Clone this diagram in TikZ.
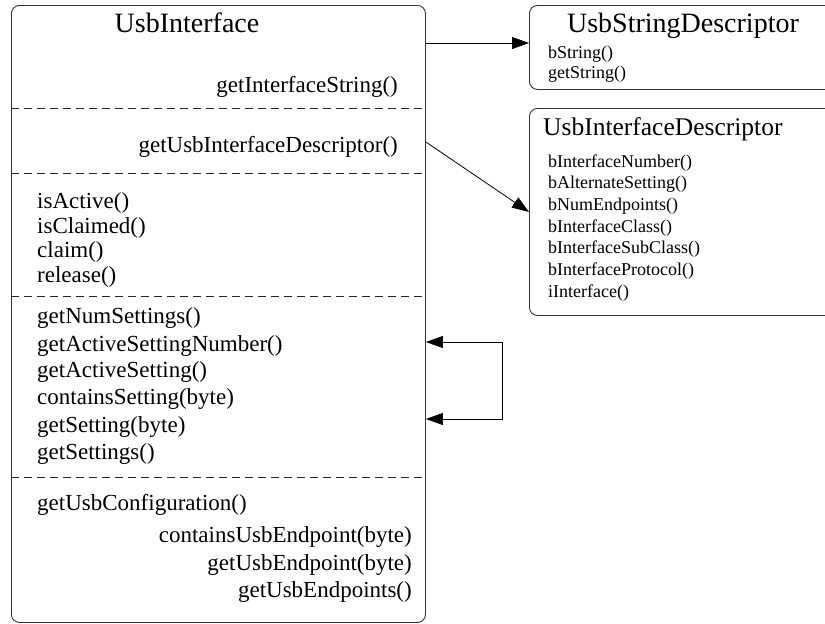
\documentclass[tikz,border=0pt]{standalone}
\usepackage{fontspec}
\setmainfont{Liberation Serif}
\usetikzlibrary{arrows.meta}
\begin{document}
\begin{tikzpicture}[x=1pt,y=-1pt,
  box/.style={draw=black!80, line width=0.9pt, rounded corners=8pt, anchor=north west, inner sep=0pt},
  sep/.style={draw=black!85, line width=0.8pt, dash pattern=on 8pt off 5pt},
  big/.style={font=\fontsize{28}{30}\selectfont, inner sep=0pt},
  mid/.style={font=\fontsize{25.5}{28}\selectfont, inner sep=0pt},
  meth/.style={font=\fontsize{23}{26}\selectfont, inner sep=0pt},
  small/.style={font=\fontsize{18}{20}\selectfont, inner sep=0pt},
  conn/.style={line width=0.8pt, -{Triangle[length=17pt,width=12pt]}}]
\useasboundingbox (0,0) rectangle (825,624);
\begin{scope}
\clip (0,0) rectangle (825,624);
% boxes
\node[box, minimum width=414pt, minimum height=617pt] (ui) at (11,5) {};
\node[box, minimum width=310pt, minimum height=84pt] (sd) at (529,5) {};
\node[box, minimum width=310pt, minimum height=207pt] (id) at (529,108) {};
\end{scope}
% separators
\draw[sep] (11,108) -- (425,108);
\draw[sep] (11,173) -- (425,173);
\draw[sep] (11,296) -- (425,296);
\draw[sep] (11,477) -- (425,477);
% UsbInterface texts
\node[big, anchor=base] (t1) at (187,32) {UsbInterface};
\node[meth, anchor=base east] (m1) at (398,92) {getInterfaceString()};
\node[meth, anchor=base east] (m2) at (398,152) {getUsbInterfaceDescriptor()};
\node[meth, anchor=base west] (m3) at (37,208) {isActive()};
\node[meth, anchor=base west] (m4) at (37,233) {isClaimed()};
\node[meth, anchor=base west] (m5) at (37,257) {claim()};
\node[meth, anchor=base west] (m6) at (37,282) {release()};
\node[meth, anchor=base west] (m7) at (37,323) {getNumSettings()};
\node[meth, anchor=base west] (m8) at (37,351) {getActiveSettingNumber()};
\node[meth, anchor=base west] (m9) at (37,377) {getActiveSetting()};
\node[meth, anchor=base west] (m10) at (37,404) {containsSetting(byte)};
\node[meth, anchor=base west] (m11) at (37,432) {getSetting(byte)};
\node[meth, anchor=base west] (m12) at (37,459) {getSettings()};
\node[meth, anchor=base west] (m13) at (37,510) {getUsbConfiguration()};
\node[meth, anchor=base east] (m14) at (412,542) {containsUsbEndpoint(byte)};
\node[meth, anchor=base east] (m15) at (412,570) {getUsbEndpoint(byte)};
\node[meth, anchor=base east] (m16) at (412,597) {getUsbEndpoints()};
% UsbStringDescriptor texts
\node[big, anchor=base] (t2) at (683,32) {UsbStringDescriptor};
\node[small, anchor=base west] (s1) at (548,58) {bString()};
\node[small, anchor=base west] (s2) at (548,78) {getString()};
% UsbInterfaceDescriptor texts
\node[mid, anchor=base west] (t3) at (543,135) {UsbInterfaceDescriptor};
\node[small, anchor=base west] (d1) at (548,167) {bInterfaceNumber()};
\node[small, anchor=base west] (d2) at (548,188.7) {bAlternateSetting()};
\node[small, anchor=base west] (d3) at (548,210.4) {bNumEndpoints()};
\node[small, anchor=base west] (d4) at (548,232.1) {bInterfaceClass()};
\node[small, anchor=base west] (d5) at (548,253.8) {bInterfaceSubClass()};
\node[small, anchor=base west] (d6) at (548,275.5) {bInterfaceProtocol()};
\node[small, anchor=base west] (d7) at (548,297.2) {iInterface()};
% connectors
\coordinate (a1) at (ui.east |- 0,43);
\coordinate (b1) at (sd.west |- 0,43);
\draw[conn] (a1) -- (b1);
\coordinate (a2) at (ui.east |- 0,142);
\coordinate (b2) at (id.west |- 0,212);
\draw[conn] (a2) -- (b2);
\coordinate (l1) at (ui.east |- 0,342);
\coordinate (l2) at (ui.east |- 0,419);
\draw[conn, {Triangle[length=17pt,width=12pt]}-{Triangle[length=17pt,width=12pt]}] (l1) -- (502,342) -- (502,419) -- (l2);
\end{tikzpicture}
\end{document}
